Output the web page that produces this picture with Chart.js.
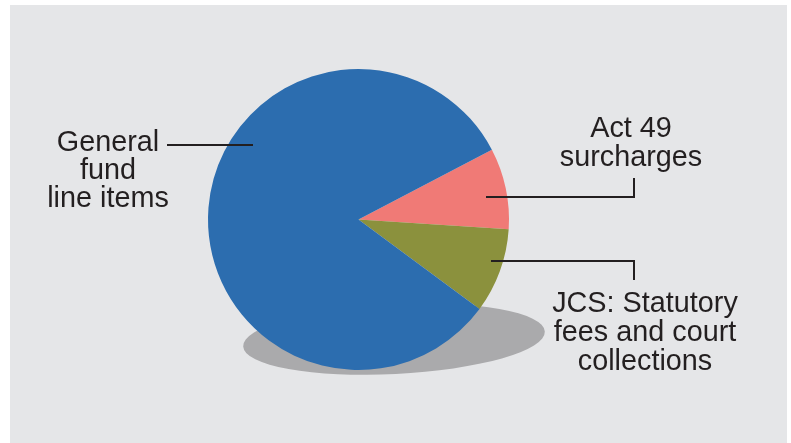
<!DOCTYPE html>
<html>
<head>
<meta charset="utf-8">
<script src="https://cdn.jsdelivr.net/npm/chart.js@4"></script>
<style>
  body { margin: 0; background: #ffffff; }
  #wrap { position: relative; width: 791px; height: 443px; }
  #panel { position: absolute; left: 10px; top: 5px; width: 777px; height: 438px; background: #e5e6e8; }
  canvas { position: absolute; left: 0; top: 0; }
</style>
</head>
<body>
<div id="wrap">
  <div id="panel"></div>
  <canvas id="pie-chart" width="791" height="443"></canvas>
</div>
<script>
// budget shares by funding source (percent)
const categories = ['Act 49 surcharges', 'JCS: Statutory fees and court collections', 'General fund line items'];
const shares = [8.7, 9.1, 82.2];
const sliceColors = ['#f07a76', '#8b913d', '#2c6daf'];

// label text, one entry per line
const labelLines = [
    ['Act 49', 'surcharges'],
    ['JCS: Statutory', 'fees and court', 'collections'],
    ['General', 'fund', 'line items']
];

const textColor = '#231f20';

// grey drop shadow under the pie
const shadowPlugin = {
    id: 'shadow',
    beforeDatasetsDraw(chart) {
        const arc = chart.getDatasetMeta(0).data[0];
        const ctx = chart.ctx;
        ctx.save();
        ctx.fillStyle = '#aaaaac';
        ctx.beginPath();
        ctx.ellipse(arc.x + 35.5, arc.y + 119.5, 151, 35, -0.05, 0, Math.PI * 2);
        ctx.fill();
        ctx.restore();
    }
};

// callout text and leader lines
const calloutPlugin = {
    id: 'callouts',
    afterDatasetsDraw(chart) {
        const ctx = chart.ctx;
        const arc = chart.getDatasetMeta(0).data[0];
        const cx = arc.x - 2.5, cy = arc.y + 0.5;
        ctx.save();
        ctx.strokeStyle = textColor;
        ctx.lineWidth = 2;

        // leader lines
        ctx.beginPath();
        ctx.moveTo(cx - 189, cy - 75);
        ctx.lineTo(cx - 103, cy - 75);
        ctx.moveTo(cx + 130, cy - 23);
        ctx.lineTo(cx + 278, cy - 23);
        ctx.lineTo(cx + 278, cy - 42);
        ctx.moveTo(cx + 135, cy + 41);
        ctx.lineTo(cx + 278, cy + 41);
        ctx.lineTo(cx + 278, cy + 60);
        ctx.stroke();

        ctx.fillStyle = textColor;
        ctx.font = '28.8px "Liberation Sans", Arial, sans-serif';
        ctx.textAlign = 'center';
        ctx.textBaseline = 'alphabetic';
        const spots = [
            { x: cx + 275, y: cy - 83, lh: 29 },
            { x: cx + 289, y: cy + 92, lh: 29 },
            { x: cx - 248, y: cy - 69, lh: 28 }
        ];
        labelLines.forEach((lines, i) => {
            lines.forEach((line, j) => {
                ctx.fillText(line, spots[i].x, spots[i].y + j * spots[i].lh);
            });
        });
        ctx.restore();
    }
};

const ctx = document.getElementById('pie-chart').getContext('2d');
new Chart(ctx, {
    type: 'pie',
    data: {
        labels: categories,
        datasets: [{
            data: shares,
            backgroundColor: sliceColors,
            borderWidth: 0
        }]
    },
    options: {
        responsive: false,
        animation: false,
        rotation: 62.4,
        layout: { padding: { left: 208, top: 69, right: 282, bottom: 73 } },
        plugins: {
            legend: { display: false },
            tooltip: { enabled: false }
        }
    },
    plugins: [shadowPlugin, calloutPlugin]
});
</script>
</body>
</html>
